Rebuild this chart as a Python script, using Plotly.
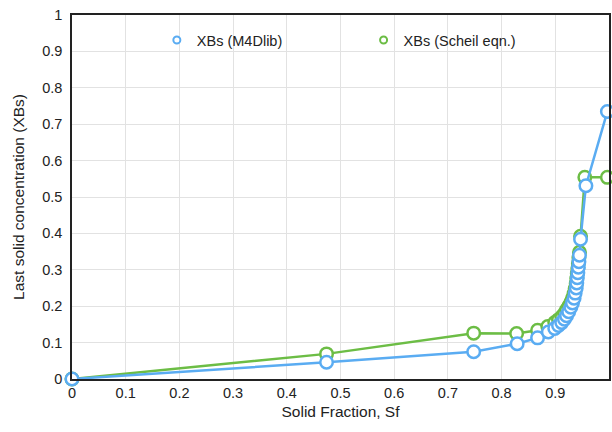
import plotly.graph_objects as go

# Data
sf_m4d = [0, 0.474, 0.748, 0.829, 0.867, 0.887, 0.899, 0.906, 0.912, 0.917, 0.921,
          0.925, 0.929, 0.932, 0.935, 0.937, 0.939, 0.940, 0.941, 0.942, 0.943,
          0.944, 0.945, 0.947, 0.957, 0.997]
xbs_m4d = [0, 0.046, 0.075, 0.097, 0.113, 0.129, 0.139, 0.147, 0.155, 0.164, 0.174,
           0.185, 0.197, 0.209, 0.222, 0.236, 0.250, 0.264, 0.278, 0.292, 0.307,
           0.322, 0.340, 0.384, 0.531, 0.735]

sf_scheil = [0, 0.474, 0.748, 0.828, 0.867, 0.886, 0.899, 0.906, 0.912, 0.917, 0.921,
             0.925, 0.929, 0.932, 0.935, 0.937, 0.939, 0.940, 0.941, 0.942, 0.943,
             0.944, 0.945, 0.947, 0.955, 0.997]
xbs_scheil = [0, 0.069, 0.126, 0.125, 0.134, 0.144, 0.155, 0.163, 0.171, 0.180, 0.190,
              0.200, 0.211, 0.222, 0.235, 0.248, 0.262, 0.276, 0.290, 0.304, 0.318,
              0.333, 0.348, 0.392, 0.554, 0.554]

name_m4d = "XBs (M4Dlib)"
name_scheil = "XBs (Scheil eqn.)"
x_title = "Solid Fraction, Sf"
y_title = "Last solid concentration (XBs)"

BLUE = "#5aacf2"
GREEN = "#6cbd45"
FONT = "Liberation Sans, Arial, Helvetica, sans-serif"

fig = go.Figure()
fig.add_trace(go.Scatter(
    x=sf_scheil, y=xbs_scheil, mode="lines+markers", name=name_scheil,
    line=dict(color=GREEN, width=2.5),
    marker=dict(symbol="circle", size=12.5, color="white", line=dict(color=GREEN, width=2.5)),
    cliponaxis=False, showlegend=False))
fig.add_trace(go.Scatter(
    x=sf_m4d, y=xbs_m4d, mode="lines+markers", name=name_m4d,
    line=dict(color=BLUE, width=2.5),
    marker=dict(symbol="circle", size=12.5, color="white", line=dict(color=BLUE, width=2.5)),
    cliponaxis=False, showlegend=False))

# Legend-only entries (marker only)
fig.add_trace(go.Scatter(
    x=[None], y=[None], mode="markers", name=name_m4d, legend="legend",
    marker=dict(symbol="circle", size=7, color="white", line=dict(color=BLUE, width=2))))
fig.add_trace(go.Scatter(
    x=[None], y=[None], mode="markers", name=name_scheil, legend="legend2",
    marker=dict(symbol="circle", size=7, color="white", line=dict(color=GREEN, width=2))))

axis_common = dict(
    range=[0, 1], dtick=0.1, tick0=0, showgrid=True, gridcolor="#e2e2e2", gridwidth=1,
    zeroline=False, showline=True, linecolor="#222222", linewidth=1.5, mirror=True,
    ticks="", tickfont=dict(size=14.5, color="#222222", family=FONT),
)

fig.update_layout(
    width=612, height=432,
    margin=dict(l=72, r=1, t=15, b=53),
    paper_bgcolor="white", plot_bgcolor="white",
    font=dict(family=FONT, color="#222222"),
    xaxis=dict(**axis_common, title=dict(text=x_title, font=dict(size=15.5), standoff=6)),
    yaxis=dict(**axis_common, ticklabelstandoff=5,
               title=dict(text=y_title, font=dict(size=15.5), standoff=14)),
    legend=dict(x=0.158, y=0.931, xanchor="left", yanchor="middle",
                bgcolor="rgba(0,0,0,0)", font=dict(size=14.5), itemwidth=30),
    legend2=dict(x=0.543, y=0.931, xanchor="left", yanchor="middle",
                 bgcolor="rgba(0,0,0,0)", font=dict(size=14.5), itemwidth=30),
)

# Remove the default page margin so the 612x432 figure fills the window exactly.
fig.write_html(
    "out.html",
    config={"displayModeBar": False},
    post_script="document.body.style.margin='0';document.body.style.overflow='hidden';",
)
